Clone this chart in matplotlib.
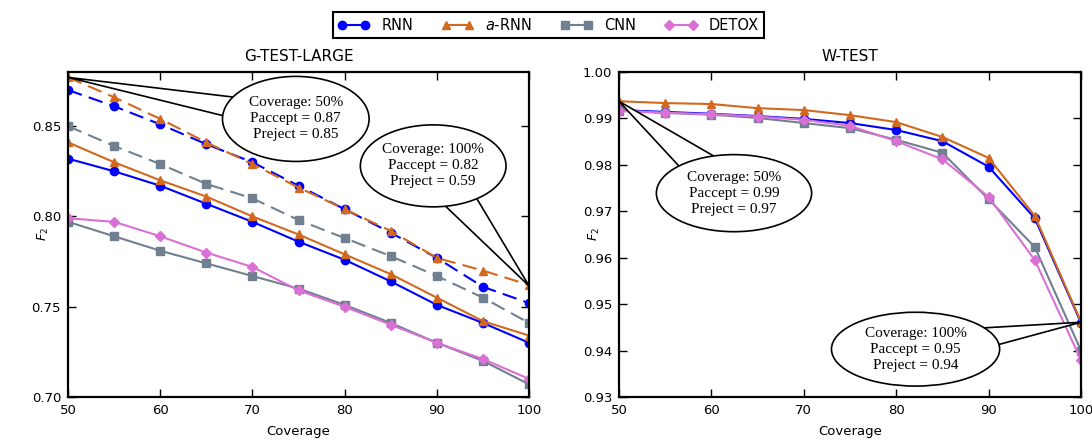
import matplotlib
matplotlib.use("Agg")
import matplotlib.pyplot as plt
from matplotlib.patches import Ellipse
import numpy as np

coverage = [50, 55, 60, 65, 70, 75, 80, 85, 90, 95, 100]

# G-TEST-LARGE (solid and dashed variants)
g_rnn = [0.832, 0.825, 0.817, 0.807, 0.797, 0.786, 0.776, 0.764, 0.751, 0.741, 0.730]
g_arnn = [0.841, 0.830, 0.820, 0.811, 0.800, 0.790, 0.779, 0.768, 0.755, 0.742, 0.734]
g_cnn = [0.797, 0.789, 0.781, 0.774, 0.767, 0.760, 0.751, 0.741, 0.730, 0.720, 0.707]
g_detox = [0.799, 0.797, 0.789, 0.780, 0.772, 0.759, 0.750, 0.740, 0.730, 0.721, 0.710]
g_rnn_dash = [0.870, 0.861, 0.851, 0.840, 0.830, 0.817, 0.804, 0.791, 0.777, 0.761, 0.752]
g_arnn_dash = [0.877, 0.866, 0.854, 0.841, 0.829, 0.816, 0.804, 0.792, 0.777, 0.770, 0.762]
g_cnn_dash = [0.850, 0.839, 0.829, 0.818, 0.810, 0.798, 0.788, 0.778, 0.767, 0.755, 0.741]

# W-TEST
w_rnn = [0.9918, 0.9914, 0.9910, 0.9905, 0.9899, 0.9890, 0.9875, 0.9851, 0.9796, 0.9685, 0.9460]
w_arnn = [0.9937, 0.9933, 0.9931, 0.9922, 0.9918, 0.9907, 0.9892, 0.9860, 0.9815, 0.9690, 0.9462]
w_cnn = [0.9916, 0.9912, 0.9908, 0.9901, 0.9890, 0.9879, 0.9854, 0.9826, 0.9726, 0.9623, 0.9400]
w_detox = [0.9917, 0.9912, 0.9909, 0.9904, 0.9897, 0.9884, 0.9851, 0.9812, 0.9731, 0.9595, 0.9380]

names = ["RNN", "$a$-RNN", "CNN", "DETOX"]
colors = ["#0000FF", "#D2691E", "#708090", "#DA70D6"]
markers = ["o", "^", "s", "D"]

# callout text, tip point, balloon centre, balloon size (data units), tail width
callouts_g = [("Coverage: 50%\nPaccept = 0.87\nPreject = 0.85", (50, 0.877), (74.7, 0.854), (15.9, 0.0471), 1.03),
              ("Coverage: 100%\nPaccept = 0.82\nPreject = 0.59", (100, 0.7615), (89.6, 0.828), (15.8, 0.0454), 1.5)]
callouts_w = [("Coverage: 50%\nPaccept = 0.99\nPreject = 0.97", (50, 0.9937), (62.45, 0.9739), (16.8, 0.0166), 1.6),
              ("Coverage: 100%\nPaccept = 0.95\nPreject = 0.94", (100, 0.9461), (82.1, 0.9403), (18.2, 0.0159), 1.25)]

fontsize = 9.5

fig = plt.figure(figsize=(10.92, 4.41), dpi=100)
ax1 = fig.add_axes([0.0623, 0.0998, 0.4222, 0.737])
ax2 = fig.add_axes([0.5668, 0.0998, 0.4231, 0.737])

lw = 1.5
ms = 6
dash = (7, 3.5)

solid_g = [g_rnn, g_arnn, g_cnn, g_detox]
handles = []
for i in range(4):
    h, = ax1.plot(coverage, solid_g[i], color=colors[i], marker=markers[i], lw=lw,
                  ms=ms if markers[i] != "D" else 5.5, mec=colors[i], label=names[i])
    handles.append(h)
dashed_g = [g_rnn_dash, g_arnn_dash, g_cnn_dash]
for i in range(3):
    ax1.plot(coverage, dashed_g[i], color=colors[i], marker=markers[i], lw=lw,
             ms=ms, mec=colors[i], dashes=dash)

solid_w = [w_rnn, w_arnn, w_cnn, w_detox]
for i in range(4):
    ax2.plot(coverage, solid_w[i], color=colors[i], marker=markers[i], lw=lw,
             ms=ms if markers[i] != "D" else 5.5, mec=colors[i])

ax1.set_ylim(0.70, 0.88)
ax1.set_yticks([0.70, 0.75, 0.80, 0.85])
ax2.set_ylim(0.93, 1.00)
ax2.set_yticks(np.arange(0.93, 1.001, 0.01))

for ax, title, callouts in [(ax1, "G-TEST-LARGE", callouts_g), (ax2, "W-TEST", callouts_w)]:
    ax.set_xlim(50, 100)
    ax.set_xticks([50, 60, 70, 80, 90, 100])
    ax.yaxis.set_major_formatter(plt.FormatStrFormatter("%.2f"))
    ax.tick_params(direction="in", top=True, right=True, length=6, width=1,
                   labelsize=fontsize, pad=5)
    for s in ax.spines.values():
        s.set_linewidth(1.6)
    ax.set_title(title, fontsize=11, pad=8)
    ax.set_xlabel("Coverage", fontsize=fontsize, labelpad=6)
    ax.set_ylabel("$F_2$", fontsize=9)
    ax.yaxis.set_label_coords(-0.037, 0.5)
    for txt, tip, pos, size, tw in callouts:
        ax.annotate("", xy=tip, xytext=pos, annotation_clip=False, zorder=10,
                    arrowprops=dict(arrowstyle=f"wedge,tail_width={tw}", fc="white",
                                    ec="black", lw=1.2, mutation_scale=20,
                                    shrinkA=0, shrinkB=0))
        ax.add_patch(Ellipse(pos, size[0], size[1], fc="white", ec="black", lw=1.2,
                             zorder=11, clip_on=False))
        ax.text(pos[0], pos[1], txt, ha="center", va="center", ma="center",
                fontsize=11, family="Liberation Serif", linespacing=1.3, zorder=12)

leg = fig.legend(handles=handles, loc="center", bbox_to_anchor=(0.502, 0.943), ncol=4,
                 fontsize=10.5, numpoints=2, fancybox=False, edgecolor="black",
                 framealpha=1, columnspacing=1.95, handlelength=2.2,
                 borderpad=0.35)
leg.get_frame().set_linewidth(1.5)

fig.savefig("out.png", dpi=100)
